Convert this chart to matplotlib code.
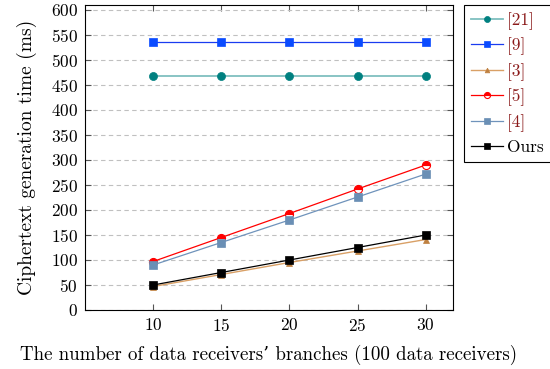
import matplotlib.pyplot as plt

plt.rcParams['font.family'] = ['cmr10', 'DejaVu Serif']
plt.rcParams['mathtext.fontset'] = 'cm'
plt.rcParams['axes.formatter.use_mathtext'] = True

branches = [10, 15, 20, 25, 30]
ref21 = [468, 468, 468, 468, 468]
ref9 = [537, 537, 537, 537, 537]
ref3 = [47, 71, 95, 118, 141]
ref5 = [97, 145, 193, 242, 290]
ref4 = [90, 135, 180, 226, 272]
ours = [50, 75, 100, 125, 150]

fig = plt.figure(figsize=(5.5, 3.69), dpi=100)
ax = fig.add_axes([85 / 550, 1 - 310 / 369, 368 / 550, 305 / 369])

ms = 5.8
ax.plot(branches, ref21, color='#7fbfbf', lw=1.3, marker='o', ms=ms,
        mfc='#008080', mec='#008080', mew=0.5, label='[21]')
ax.plot(branches, ref9, color='#1a3cf0', lw=0.9, marker='s', ms=ms,
        mfc='#0a4bff', mec='#0a4bff', mew=0.5, label='[9]')
ax.plot(branches, ref3, color='#d9a066', lw=1.0, marker='^', ms=4.5,
        mfc='#bf8040', mec='#bf8040', mew=0.5, label='[3]')
ax.plot(branches, ref5, color='red', lw=0.9, marker='o', ms=ms,
        mfc='red', mec='red', mew=0.8, fillstyle='top', markerfacecoloralt='white', label='[5]')
ax.plot(branches, ref4, color='#6f93bb', lw=0.9, marker='s', ms=ms,
        mfc='#6a8fb5', mec='#6a8fb5', mew=0.5, label='[4]')
ax.plot(branches, ours, color='black', lw=0.9, marker='s', ms=ms,
        mfc='black', mec='black', mew=0.5, label='Ours')

ax.set_xlim(5, 32)
ax.set_ylim(0, 610)
ax.set_xticks(branches)
ax.set_yticks(range(0, 601, 50))
ax.tick_params(direction='in', top=True, right=True, labelsize=12.5, length=4,
               color='#555555', pad=5)
ax.grid(axis='y', ls=(0, (4, 3)), color='#c0c0c0', lw=0.8)
ax.set_axisbelow(True)
for s in ax.spines.values():
    s.set_linewidth(0.8)

ax.set_xlabel("The number of data receivers\u2019 branches (100 data receivers)", fontsize=13.6, labelpad=8)
ax.set_ylabel("Ciphertext generation time (ms)", fontsize=14, labelpad=10)

leg = ax.legend(loc='upper left', bbox_to_anchor=(1.03, 1.0), fontsize=12.5,
                fancybox=False, edgecolor='black', framealpha=1,
                handlelength=1.85, borderaxespad=0, labelspacing=0.45,
                handletextpad=0.25, borderpad=0.4, markerscale=0.75)
leg.get_frame().set_linewidth(0.8)
for t in leg.get_texts()[:-1]:
    t.set_color('#8b1a1a')

fig.savefig('out.png', dpi=100)
